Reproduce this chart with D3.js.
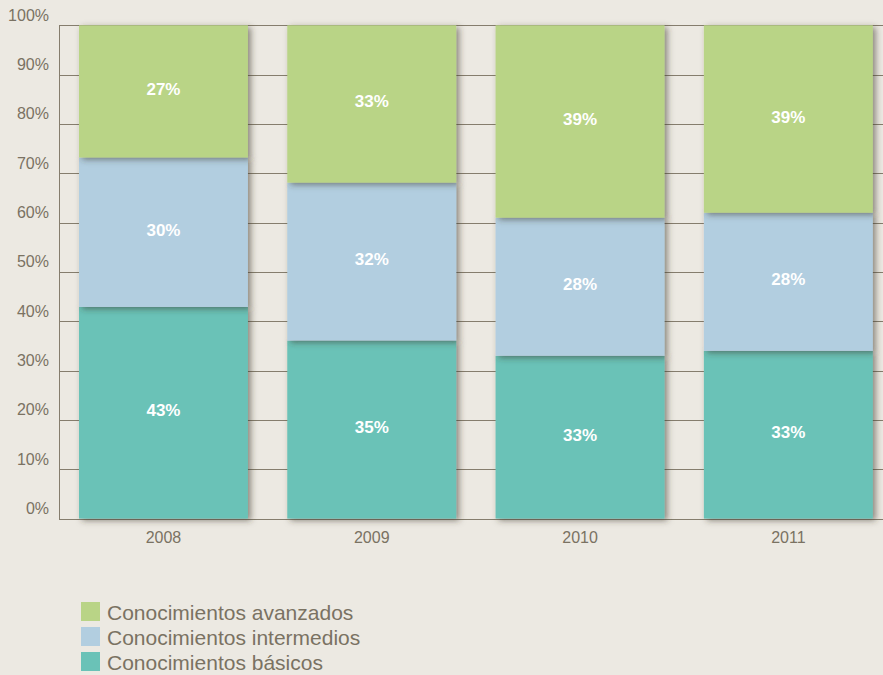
<!DOCTYPE html>
<html>
<head>
<meta charset="utf-8">
<script src="https://cdn.jsdelivr.net/npm/d3@7"></script>
<style>
  html, body { margin: 0; padding: 0; background: #ece9e2; }
  svg { display: block; }
  text { font-family: "Liberation Sans", Arial, sans-serif; }
</style>
</head>
<body>
<svg id="chart" width="883" height="675"></svg>
<script>
// ---- data ----
const years = ["2008", "2009", "2010", "2011"];
const basicos = [42.9, 36.1, 33.0, 34.0];
const intermedios = [30.3, 32.0, 28.0, 28.0];
const avanzados = [26.8, 31.9, 39.0, 38.0];
const basicosLabels = ["43%", "35%", "33%", "33%"];
const intermediosLabels = ["30%", "32%", "28%", "28%"];
const avanzadosLabels = ["27%", "33%", "39%", "39%"];
const seriesNames = ["Conocimientos avanzados", "Conocimientos intermedios", "Conocimientos básicos"];
const yTicks = [0, 10, 20, 30, 40, 50, 60, 70, 80, 90, 100];

const colors = { basicos: "#6ac2b7", intermedios: "#b2cee0", avanzados: "#b9d486" };
const textColor = "#7a7262";
const gridColor = "#857d6d";

const svg = d3.select("#chart");
const W = 883;

const x = d3.scaleBand().domain(years).range([59, 892.8]).paddingInner(0.189).paddingOuter(0.096);
const y = d3.scaleLinear().domain([0, 100]).range([518.6, 25.3]);

// shadow filter
const defs = svg.append("defs");
const f = defs.append("filter").attr("id", "shadow").attr("x", "-10%").attr("y", "-10%").attr("width", "130%").attr("height", "130%");
f.append("feDropShadow").attr("dx", 3).attr("dy", 2).attr("stdDeviation", 3)
  .attr("flood-color", "#3a342a").attr("flood-opacity", 0.55);

// gridlines
svg.append("g").selectAll("line").data(yTicks).join("line")
  .attr("x1", 59).attr("x2", W)
  .attr("y1", d => Math.round(y(d)) + 0.5).attr("y2", d => Math.round(y(d)) + 0.5)
  .attr("stroke", gridColor).attr("stroke-width", 1);

// y axis line
svg.append("line").attr("x1", 59.5).attr("x2", 59.5)
  .attr("y1", Math.round(y(100))).attr("y2", Math.round(y(0)) + 1)
  .attr("stroke", gridColor).attr("stroke-width", 1);

// y tick labels
svg.append("g").selectAll("text").data(yTicks).join("text")
  .attr("x", 49).attr("y", d => y(d) - 10)
  .attr("text-anchor", "end").attr("dominant-baseline", "central")
  .attr("font-size", 16).attr("fill", textColor)
  .text(d => d + "%");

// stacked bars
const series = [
  { key: "basicos", values: basicos, labels: basicosLabels },
  { key: "intermedios", values: intermedios, labels: intermediosLabels },
  { key: "avanzados", values: avanzados, labels: avanzadosLabels }
];
const stacked = years.map((yr, i) => {
  let acc = 0;
  return series.map(s => {
    const y0 = acc; acc += s.values[i];
    return { year: yr, key: s.key, y0, y1: acc, label: s.labels[i] };
  });
});

series.forEach((s, si) => {
  svg.append("g").selectAll("rect").data(stacked.map(d => d[si])).join("rect")
    .attr("x", d => x(d.year)).attr("width", x.bandwidth())
    .attr("y", d => y(d.y1)).attr("height", d => y(d.y0) - y(d.y1))
    .attr("fill", colors[s.key])
    .attr("filter", "url(#shadow)");
});

// bar labels
svg.append("g").selectAll("text").data(stacked.flat()).join("text")
  .attr("x", d => x(d.year) + x.bandwidth() / 2)
  .attr("y", d => (y(d.y0) + y(d.y1)) / 2 - 2)
  .attr("text-anchor", "middle").attr("dominant-baseline", "central")
  .attr("font-size", 17).attr("font-weight", "bold").attr("fill", "#ffffff")
  .text(d => d.label);

// x labels
svg.append("g").selectAll("text").data(years).join("text")
  .attr("x", d => x(d) + x.bandwidth() / 2).attr("y", 537)
  .attr("text-anchor", "middle").attr("dominant-baseline", "central")
  .attr("font-size", 16).attr("fill", textColor)
  .text(d => d);

// legend
const legendColors = [colors.avanzados, colors.intermedios, colors.basicos];
const lg = svg.append("g").selectAll("g").data(seriesNames).join("g")
  .attr("transform", (d, i) => `translate(81, ${602 + i * 25})`);
lg.append("rect").attr("width", 19).attr("height", 19).attr("fill", (d, i) => legendColors[i]);
lg.append("text").attr("x", 26).attr("y", 18)
  .attr("font-size", 21).attr("fill", textColor)
  .text(d => d);
</script>
</body>
</html>
